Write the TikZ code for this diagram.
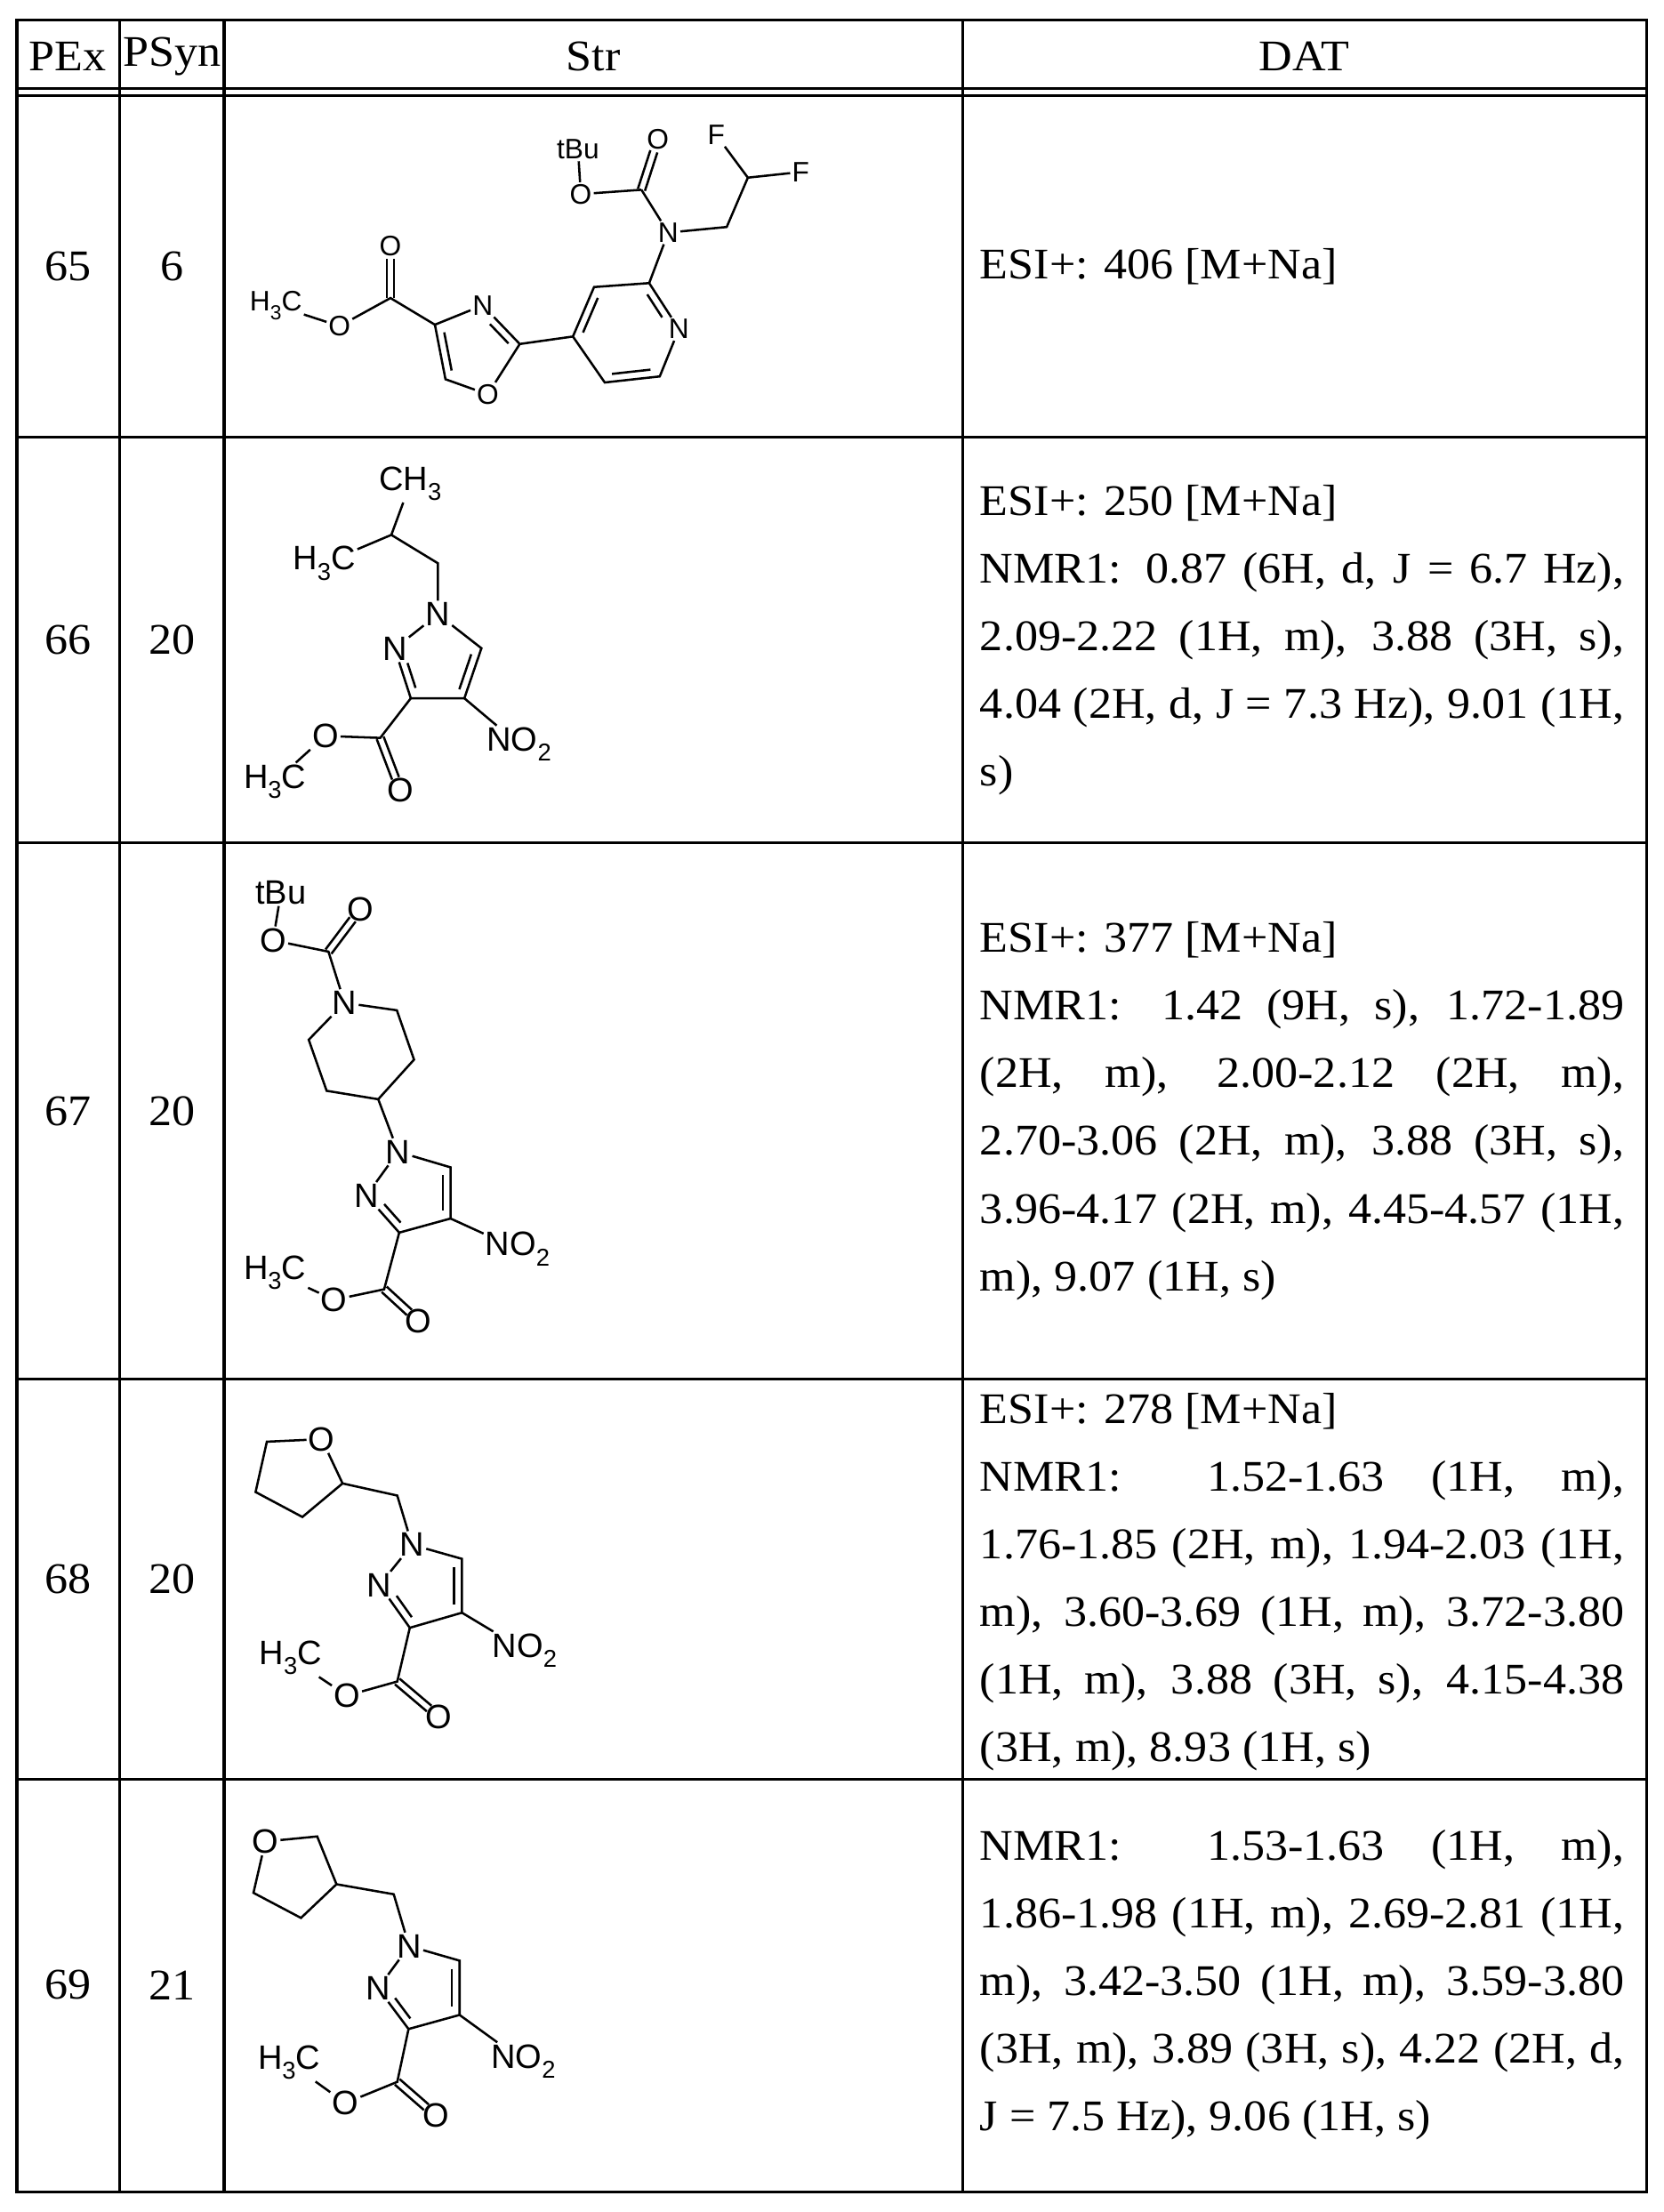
\documentclass[tikz,border=0pt]{standalone}
\usepackage{fontspec}
\setmainfont{Liberation Serif}[FakeStretch=1.06]
\setsansfont{Liberation Sans}
\usetikzlibrary{calc}
\newcommand\lsub[1]{\raisebox{-0.3em}{\scalebox{0.72}{#1}}}
\newcommand\jl[1]{\makebox[457pt][s]{#1}}
% inner ring double bond: a, b, ring centre, fraction at a, fraction at b
\newcommand\dbr[5]{%
  \coordinate (dbm) at ($(#1)!.5!(#2)$);
  \coordinate (dbp) at ($(dbm)!5.5pt!(#3)$);
  \draw ($(#1)!#4!(#2)+(dbp)-(dbm)$) -- ($(#2)!#5!(#1)+(dbp)-(dbm)$);}
% exocyclic C=O : carbon coordinate, oxygen node
\newcommand\dbo[2]{%
  \draw[shorten >=9pt] ($(#1)!2.6pt!90:(#2)$) -- ($(#2)!2.6pt!-90:(#1)$);
  \draw[shorten >=9pt] ($(#1)!2.6pt!-90:(#2)$) -- ($(#2)!2.6pt!90:(#1)$);}
\tikzset{
  grid/.style={line width=2pt},
  cell/.style={font=\fontsize{31}{48}\selectfont, inner sep=0pt},
  dat/.style={font=\fontsize{31}{48}\selectfont, inner sep=0pt, align=left, anchor=west},
  bond/.style={line width=1.6pt},
  lbl/.style={inner sep=0.6pt, font=\sffamily\fontsize{24}{24}\selectfont},
  lbls/.style={inner sep=0.6pt, font=\sffamily\fontsize{20}{20}\selectfont},
}
\begin{document}
\begin{tikzpicture}[x=1pt,y=-1pt]
\useasboundingbox (0,0) rectangle (1180,1569);
% table
\draw[grid] (12,14) rectangle (1168,1555);
\foreach \x in {85,159,683} \draw[grid] (\x,14) -- (\x,1555);
\draw[grid] (12,63) -- (1168,63);
\draw[grid] (12,68) -- (1168,68);
\foreach \y in {310,598,978,1262} \draw[grid] (12,\y) -- (1168,\y);
% header
\node[cell] (h1) at (48,40) {PEx};
\node[cell] (h2) at (122,40) {PSyn};
\node[cell] (h3) at (421,40) {Str};
\node[cell] (h4) at (925,40) {DAT};
% numbers
\node[cell] (n65) at (48,189) {65}; \node[cell] (s65) at (122,189) {6};
\node[cell] (n66) at (48,454) {66}; \node[cell] (s66) at (122,454) {20};
\node[cell] (n67) at (48,788) {67}; \node[cell] (s67) at (122,788) {20};
\node[cell] (n68) at (48,1120) {68}; \node[cell] (s68) at (122,1120) {20};
\node[cell] (n69) at (48,1408) {69}; \node[cell] (s69) at (122,1408) {21};
% data
\node[dat] (d65) at (695,189) {ESI+: 406 [M+Na]};
\node[dat] (d66) at (695,454) {ESI+: 250 [M+Na]\\
\jl{NMR1: 0.87 (6H, d, J = 6.7 Hz),}\\
\jl{2.09-2.22 (1H, m), 3.88 (3H, s),}\\
\jl{4.04 (2H, d, J = 7.3 Hz), 9.01 (1H,}\\
s)};
\node[dat] (d67) at (695,788) {ESI+: 377 [M+Na]\\
\jl{NMR1: 1.42 (9H, s), 1.72-1.89}\\
\jl{(2H, m), 2.00-2.12 (2H, m),}\\
\jl{2.70-3.06 (2H, m), 3.88 (3H, s),}\\
\jl{3.96-4.17 (2H, m), 4.45-4.57 (1H,}\\
m), 9.07 (1H, s)};
\node[dat] (d68) at (695,1122) {ESI+: 278 [M+Na]\\
\jl{NMR1: 1.52-1.63 (1H, m),}\\
\jl{1.76-1.85 (2H, m), 1.94-2.03 (1H,}\\
\jl{m), 3.60-3.69 (1H, m), 3.72-3.80}\\
\jl{(1H, m), 3.88 (3H, s), 4.15-4.38}\\
(3H, m), 8.93 (1H, s)};
\node[dat] (d69) at (695,1408) {\jl{NMR1: 1.53-1.63 (1H, m),}\\
\jl{1.86-1.98 (1H, m), 2.69-2.81 (1H,}\\
\jl{m), 3.42-3.50 (1H, m), 3.59-3.80}\\
\jl{(3H, m), 3.89 (3H, s), 4.22 (2H, d,}\\
J = 7.5 Hz), 9.06 (1H, s)};

% ---------- structure 65
\begin{scope}[bond]
\node[lbls] (a1) at (410,106) {tBu};
\node[lbls] (a2) at (466.6,98.8) {O};
\node[lbls] (a3) at (508,95.7) {F};
\node[lbls] (a4) at (568,122) {F};
\coordinate (a5) at (530.5,126);
\coordinate (a6) at (515.5,161);
\node[lbls] (a7) at (474,165) {N};
\coordinate (a8) at (455,134.6);
\node[lbls] (a9) at (412,137.7) {O};
\coordinate (p2) at (460.5,200.8);
\coordinate (p3) at (421.4,203.6);
\coordinate (p4) at (406.4,238.7);
\coordinate (p5) at (429,271.3);
\coordinate (p6) at (468,267);
\node[lbls] (pn) at (481.6,233.4) {N};
\coordinate (pc) at (444,236);
\coordinate (o2) at (368.7,244);
\node[lbls] (on) at (342.4,216.6) {N};
\coordinate (o4) at (308.5,230.3);
\coordinate (o5) at (316,269);
\node[lbls] (oo) at (346,279.7) {O};
\coordinate (oc) at (336,248);
\coordinate (ec) at (277,211.4);
\node[lbls] (eo) at (277,174.5) {O};
\node[lbls] (eo2) at (240.8,231.3) {O};
\node[lbls] (me) at (195.7,216.6) {H\lsub{3}C};
\draw (a1)--(a9) (a9)--(a8) (a8)--(a7) (a7)--(a6)--(a5) (a5)--(a3) (a5)--(a4);
\dbo{a8}{a2}
\draw (a7)--(p2)--(p3)--(p4)--(p5)--(p6)--(pn)--(p2);
\dbr{p3}{p4}{pc}{.15}{.15}
\dbr{p2}{pn}{pc}{.15}{.35}
\dbr{p5}{p6}{pc}{.15}{.15}
\draw (p4)--(o2)--(on)--(o4)--(o5)--(oo)--(o2);
\dbr{on}{o2}{oc}{.35}{.15}
\dbr{o4}{o5}{oc}{.15}{.15}
\draw (o4)--(ec)--(eo2)--(me);
\dbo{ec}{eo}
\end{scope}

% ---------- structure 66
\begin{scope}[bond]
\node[lbl] (b1) at (291,343) {CH\lsub{3}};
\coordinate (b2) at (277.6,379.4);
\node[lbl] (b3) at (230,399.5) {H\lsub{3}C};
\coordinate (b4) at (310.6,399.5);
\node[lbl] (b5) at (310.6,435.7) {N};
\coordinate (b6) at (341.5,459.8);
\coordinate (b7) at (329.4,495.3);
\coordinate (b8) at (291.4,495.3);
\node[lbl] (b9) at (280,460) {N};
\node[lbl,anchor=west] (b10) at (344,528) {NO\lsub{2}};
\coordinate (b11) at (269.7,523.4);
\node[lbl] (b12) at (283.8,560.5) {O};
\node[lbl] (b13) at (230.8,522) {O};
\node[lbl] (b14) at (195,554.4) {H\lsub{3}C};
\coordinate (bc) at (302,471);
\draw (b1)--(b2) (b2)--(b3) (b2)--(b4)--(b5)--(b6)--(b7)--(b8)--(b9)--(b5);
\dbr{b6}{b7}{bc}{.15}{.15}
\dbr{b9}{b8}{bc}{.35}{.15}
\draw (b7)--(b10) (b8)--(b11)--(b13)--(b14);
\dbo{b11}{b12}
\end{scope}

% ---------- structure 67
\begin{scope}[bond]
\node[lbl] (c1) at (199.3,632.9) {tBu};
\node[lbl] (c2) at (193.7,667) {O};
\coordinate (c3) at (233,675);
\node[lbl] (c4) at (255.6,644.9) {O};
\node[lbl] (c5) at (244.4,711.3) {N};
\coordinate (c6) at (281.5,716.6);
\coordinate (c7) at (293.7,751.6);
\coordinate (c8) at (268.3,779.7);
\coordinate (c9) at (231.7,773.7);
\coordinate (c10) at (219,737.5);
\node[lbl] (c11) at (282.4,817) {N};
\coordinate (c12) at (319.6,828);
\coordinate (c13) at (319.6,864.3);
\coordinate (c14) at (283.2,874.3);
\node[lbl] (c15) at (259.9,848.1) {N};
\node[lbl,anchor=west] (c16) at (343,886) {NO\lsub{2}};
\coordinate (c17) at (272.5,914.5);
\node[lbl] (c18) at (237,922) {O};
\node[lbl] (c19) at (297,937) {O};
\node[lbl] (c20) at (195,902.5) {H\lsub{3}C};
\coordinate (cc) at (293,846);
\draw (c1)--(c2)--(c3)--(c5)--(c6)--(c7)--(c8)--(c9)--(c10)--(c5);
\dbo{c3}{c4}
\draw (c8)--(c11)--(c12)--(c13)--(c14)--(c15)--(c11);
\dbr{c12}{c13}{cc}{.15}{.15}
\dbr{c15}{c14}{cc}{.35}{.15}
\draw (c13)--(c16) (c14)--(c17)--(c18)--(c20);
\dbo{c17}{c19}
\end{scope}

% ---------- structure 68
\begin{scope}[bond]
\node[lbl] (f1) at (228.2,1020.8) {O};
\coordinate (f2) at (243,1052.2);
\coordinate (f3) at (214.5,1076);
\coordinate (f4) at (181.3,1058.3);
\coordinate (f5) at (189.3,1022.6);
\coordinate (f6) at (281.8,1060.8);
\node[lbl] (f7) at (292.3,1095.7) {N};
\coordinate (f8) at (327.7,1105.7);
\coordinate (f9) at (327.7,1143.9);
\coordinate (f10) at (290.7,1154.6);
\node[lbl] (f11) at (269.2,1124.3) {N};
\node[lbl,anchor=west] (f12) at (348,1170.6) {NO\lsub{2}};
\coordinate (f13) at (281.8,1192.7);
\node[lbl] (f14) at (311.3,1217.7) {O};
\node[lbl] (f15) at (246.1,1202.7) {O};
\node[lbl] (f16) at (206.1,1176) {H\lsub{3}C};
\coordinate (fc) at (302,1125);
\draw (f1)--(f2)--(f3)--(f4)--(f5)--(f1) (f2)--(f6)--(f7)--(f8)--(f9)--(f10)--(f11)--(f7);
\dbr{f8}{f9}{fc}{.15}{.15}
\dbr{f11}{f10}{fc}{.35}{.15}
\draw (f9)--(f12) (f10)--(f13)--(f15)--(f16);
\dbo{f13}{f14}
\end{scope}

% ---------- structure 69
\begin{scope}[bond]
\node[lbl] (e1) at (188.2,1306.2) {O};
\coordinate (e2) at (225,1302.6);
\coordinate (e3) at (238.7,1336.5);
\coordinate (e4) at (213.5,1360.4);
\coordinate (e5) at (179.8,1342.6);
\coordinate (e6) at (279.3,1343.6);
\node[lbl] (e7) at (290.2,1380.4) {N};
\coordinate (e8) at (326,1390.7);
\coordinate (e9) at (326,1429.2);
\coordinate (e10) at (289.8,1439.2);
\node[lbl] (e11) at (268.2,1410.3) {N};
\node[lbl,anchor=west] (e12) at (347,1462) {NO\lsub{2}};
\coordinate (e13) at (281.8,1476.7);
\node[lbl] (e14) at (309.2,1500.6) {O};
\node[lbl] (e15) at (245,1491.7) {O};
\node[lbl] (e16) at (205.1,1463) {H\lsub{3}C};
\coordinate (ec2) at (300,1410);
\draw (e1)--(e2)--(e3)--(e4)--(e5)--(e1) (e3)--(e6)--(e7)--(e8)--(e9)--(e10)--(e11)--(e7);
\dbr{e8}{e9}{ec2}{.15}{.15}
\dbr{e11}{e10}{ec2}{.35}{.15}
\draw (e9)--(e12) (e10)--(e13)--(e15)--(e16);
\dbo{e13}{e14}
\end{scope}
\end{tikzpicture}
\end{document}
